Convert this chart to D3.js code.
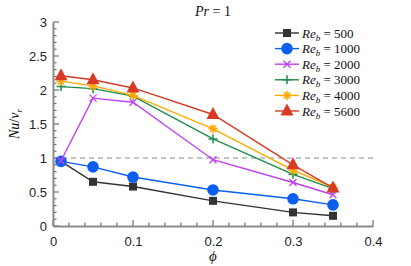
<!DOCTYPE html>
<html>
<head>
<meta charset="utf-8">
<script src="https://cdn.jsdelivr.net/npm/d3@7"></script>
<style>
  body { margin: 0; background: #fff; }
  svg text { font-family: "Liberation Sans", Arial, sans-serif; }
  .math { font-family: "Liberation Serif", "DejaVu Serif", serif; }
</style>
</head>
<body>
<div id="chart"></div>
<script>
const phi = [0.01, 0.05, 0.1, 0.2, 0.3, 0.35];
const re500 = [0.95, 0.65, 0.58, 0.37, 0.20, 0.15];
const re1000 = [0.95, 0.87, 0.72, 0.53, 0.40, 0.31];
const re2000 = [0.96, 1.88, 1.82, 0.975, 0.64, 0.46];
const re3000 = [2.05, 2.02, 1.91, 1.28, 0.76, 0.55];
const re4000 = [2.13, 2.06, 1.92, 1.43, 0.82, 0.57];
const re5600 = [2.21, 2.15, 2.03, 1.64, 0.90, 0.56];
const seriesNames = ["500", "1000", "2000", "3000", "4000", "5600"];
const xTicks = [0, 0.1, 0.2, 0.3, 0.4];
const yTicks = [0, 0.5, 1, 1.5, 2, 2.5, 3];

(function () {
  const W = 411, H = 266;
  const m = { left: 53, right: 38, top: 22, bottom: 40 };

  const series = [
    { name: seriesNames[0], vals: re500, color: "#333333", shape: "square" },
    { name: seriesNames[1], vals: re1000, color: "#0a5ff0", shape: "circle" },
    { name: seriesNames[2], vals: re2000, color: "#c040f0", shape: "x" },
    { name: seriesNames[3], vals: re3000, color: "#1e8c4c", shape: "plus" },
    { name: seriesNames[4], vals: re4000, color: "#ffaa00", shape: "star" },
    { name: seriesNames[5], vals: re5600, color: "#d93a24", shape: "triangle" },
  ];

  const x = d3.scaleLinear().domain([0, 0.4]).range([m.left, W - m.right]);
  const y = d3.scaleLinear().domain([0, 3]).range([H - m.bottom, m.top]);

  const svg = d3.select("#chart").append("svg")
    .attr("width", W).attr("height", H);

  const axisColor = "#8a8a8a";

  // minor ticks
  const g = svg.append("g");
  d3.range(0, 0.4001, 0.02).forEach(function (v) {
    const major = Math.abs(v * 10 - Math.round(v * 10)) < 1e-6;
    g.append("line")
      .attr("x1", x(v)).attr("x2", x(v))
      .attr("y1", y(0)).attr("y2", y(0) - (major ? 6 : 3.5))
      .attr("stroke", "#555").attr("stroke-width", 1);
  });
  d3.range(0, 3.0001, 0.1).forEach(function (v) {
    const major = Math.abs(v * 2 - Math.round(v * 2)) < 1e-6;
    g.append("line")
      .attr("x1", x(0)).attr("x2", x(0) + (major ? 6 : 3.5))
      .attr("y1", y(v)).attr("y2", y(v))
      .attr("stroke", "#555").attr("stroke-width", 1);
  });

  // axes
  const xAxis = svg.append("g")
    .attr("transform", `translate(0,${y(0)})`)
    .call(d3.axisBottom(x).tickValues(xTicks).tickSize(0).tickPadding(11)
      .tickFormat((d) => d === 0 ? "0" : d3.format(".1f")(d)));
  const yAxis = svg.append("g")
    .attr("transform", `translate(${x(0)},0)`)
    .call(d3.axisLeft(y).tickValues(yTicks).tickSize(0).tickPadding(6)
      .tickFormat((d) => String(d)));
  [xAxis, yAxis].forEach(function (a) {
    a.select(".domain").attr("stroke", axisColor).attr("stroke-width", 2);
    a.selectAll("text").attr("font-size", 13).attr("fill", "#222")
      .style("font-family", "'Liberation Sans', Arial, sans-serif");
  });

  // reference line
  svg.append("line")
    .attr("x1", x(0)).attr("x2", x(0.4))
    .attr("y1", y(1)).attr("y2", y(1))
    .attr("stroke", "#8a8a8a").attr("stroke-width", 1.2)
    .attr("stroke-dasharray", "5,4");

  function marker(sel, shape, color) {
    if (shape === "square") {
      sel.append("rect").attr("x", -4).attr("y", -4).attr("width", 8).attr("height", 8)
        .attr("fill", color);
    } else if (shape === "circle") {
      sel.append("circle").attr("r", 5.8).attr("fill", color);
    } else if (shape === "triangle") {
      sel.append("path").attr("d", "M0,-7.5L6.5,4.5L-6.5,4.5Z").attr("fill", color);
    } else if (shape === "x") {
      sel.append("path").attr("d", "M-3.5,-3.5L3.5,3.5M-3.5,3.5L3.5,-3.5")
        .attr("stroke", color).attr("stroke-width", 1.3).attr("fill", "none");
    } else if (shape === "plus") {
      sel.append("path").attr("d", "M-4.5,0L4.5,0M0,-4.5L0,4.5")
        .attr("stroke", color).attr("stroke-width", 1.5).attr("fill", "none");
    } else if (shape === "star") {
      sel.append("path").attr("d", "M-4.5,0L4.5,0M0,-4.5L0,4.5M-3.2,-3.2L3.2,3.2M-3.2,3.2L3.2,-3.2")
        .attr("stroke", color).attr("stroke-width", 1.5).attr("fill", "none");
    }
  }

  const line = d3.line().x((d) => x(d[0])).y((d) => y(d[1]));

  series.forEach(function (s) {
    const pts = phi.map((p, i) => [p, s.vals[i]]);
    svg.append("path").datum(pts)
      .attr("d", line).attr("fill", "none")
      .attr("stroke", s.color).attr("stroke-width", 1.4);
    svg.append("g").selectAll("g").data(pts).enter().append("g")
      .attr("transform", (d) => `translate(${x(d[0])},${y(d[1])})`)
      .each(function () { marker(d3.select(this), s.shape, s.color); });
  });

  // legend
  const lg = svg.append("g").attr("transform", "translate(275,33)");
  series.forEach(function (s, i) {
    const row = lg.append("g").attr("transform", `translate(0,${i * 15.6})`);
    row.append("line").attr("x1", 0).attr("x2", 24).attr("y1", 0).attr("y2", 0)
      .attr("stroke", s.color).attr("stroke-width", 1.4);
    marker(row.append("g").attr("transform", "translate(12,0)"), s.shape, s.color);
    const t = row.append("text").attr("class", "math").attr("x", 27).attr("y", 4.5)
      .attr("font-size", 13).attr("fill", "#111");
    t.append("tspan").attr("font-style", "italic").text("Re");
    t.append("tspan").attr("font-style", "italic").attr("font-size", 9).attr("dy", 3).text("b");
    t.append("tspan").attr("dy", -3).text(" = " + s.name);
  });

  // title
  const title = svg.append("text").attr("class", "math")
    .attr("x", x(0.2)).attr("y", 16).attr("text-anchor", "middle")
    .attr("font-size", 14).attr("fill", "#111");
  title.append("tspan").attr("font-style", "italic").text("Pr");
  title.append("tspan").text(" = 1");

  // x label
  svg.append("text").attr("class", "math")
    .attr("x", x(0.2)).attr("y", 261).attr("text-anchor", "middle")
    .attr("font-size", 15).attr("font-style", "italic").attr("fill", "#111")
    .text("\u03D5");

  // y label
  const yl = svg.append("text").attr("class", "math")
    .attr("transform", `translate(19,${y(1.5)}) rotate(-90)`)
    .attr("text-anchor", "middle").attr("font-size", 14).attr("fill", "#111");
  yl.append("tspan").attr("font-style", "italic").text("Nu");
  yl.append("tspan").text("/");
  yl.append("tspan").attr("font-style", "italic").text("\u03BD");
  yl.append("tspan").attr("font-style", "italic").attr("font-size", 9).attr("dy", 3).text("r");
})();
</script>
</body>
</html>
